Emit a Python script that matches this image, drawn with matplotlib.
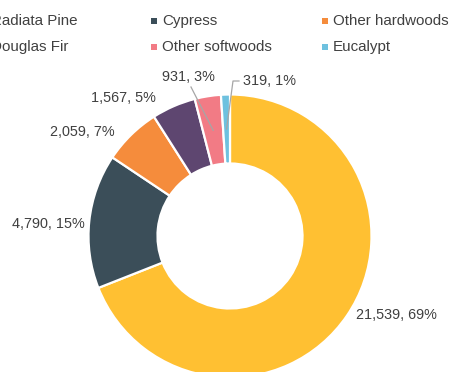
import numpy as np
import matplotlib
matplotlib.use("Agg")
import matplotlib.pyplot as plt
from matplotlib.patches import Rectangle

plt.rcParams['font.family'] = ['Liberation Sans', 'DejaVu Sans']

species = ["Radiata Pine", "Cypress", "Other hardwoods", "Douglas Fir", "Other softwoods", "Eucalypt"]
values = [21539, 4790, 2059, 1567, 931, 319]
colors = ["#FFC032", "#3B4E59", "#F58C3C", "#5E4670", "#F27B85", "#6EC1DF"]
# legend order as displayed (row-wise): col1, col2, col3
legend_rows = [["Radiata Pine", "Cypress", "Other hardwoods"],
               ["Douglas Fir", "Other softwoods", "Eucalypt"]]

W, H = 452, 372
fig = plt.figure(figsize=(W / 100, H / 100), dpi=100)
ax = fig.add_axes([0, 0, 1, 1])

def py(y):
    return H - y

cx, cy = 230, 236
R, ring = 141.5, 69
wedges, _ = ax.pie(values, colors=colors, startangle=90, counterclock=False,
                   center=(cx, py(cy)), radius=R, frame=True,
                   wedgeprops=dict(width=ring, edgecolor='white', linewidth=1.6))
ax.set_xlim(0, W)
ax.set_ylim(0, H)
ax.set_aspect('equal')
ax.axis('off')

total = sum(values)
labels = [f"{v:,}, {round(v / total * 100):.0f}%" for v in values]
label_pos = [(396, 315), (48, 224), (82, 132), (123, 98), (188, 77), (270, 81)]
txt_color = "#404040"
for lab, (x, y) in zip(labels, label_pos):
    ax.text(x, py(y), lab, ha='center', va='center', fontsize=10.4, color=txt_color)

# leader lines for small slices
def mid_point(w, r):
    th = np.deg2rad((w.theta1 + w.theta2) / 2)
    return cx + r * np.cos(th), py(cy) + r * np.sin(th)

lc = "#A6A6A6"
ex, ey = mid_point(wedges[4], 107)
ax.plot([191, ex], [py(87), ey], color=lc, lw=0.9)
ex, ey = mid_point(wedges[5], 107)
ax.plot([239, 233, ex], [py(81), py(81), ey], color=lc, lw=0.9)

# legend (manual grid)
col_x0, col_dx = -20, 171
row_y = [21, 47]
cmap = dict(zip(species, colors))
for r, row in enumerate(legend_rows):
    for c, name in enumerate(row):
        mx = col_x0 + c * col_dx
        ax.add_patch(Rectangle((mx, py(row_y[r]) - 2.8), 5.6, 5.6,
                               facecolor=cmap[name], edgecolor='none', clip_on=False))
        ax.text(mx + 11, py(row_y[r]), name, ha='left', va='center',
                fontsize=10.9, color=txt_color, clip_on=False)

fig.savefig("out.png", dpi=100)
